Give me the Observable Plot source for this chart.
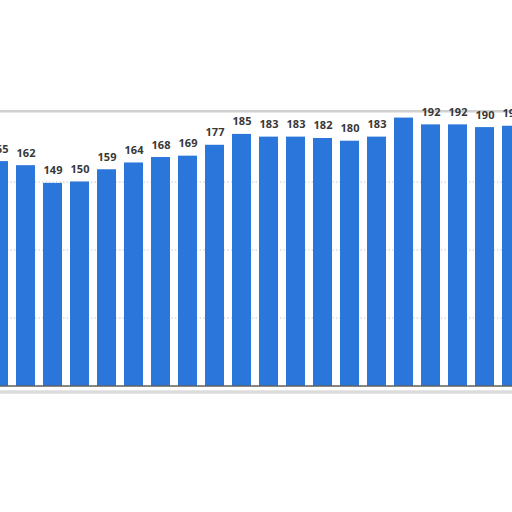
<!DOCTYPE html>
<html>
<head>
<meta charset="utf-8">
<script src="https://cdn.jsdelivr.net/npm/d3@7"></script>
<script src="https://cdn.jsdelivr.net/npm/@observablehq/plot@0.6"></script>
<style>
  html, body { margin: 0; padding: 0; background: #fff; }
  #chart svg { display: block; }
</style>
</head>
<body>
<div id="chart"></div>
<script>
// Categories (x axis not visible in the reference crop)
const categories = ["2001","2002","2003","2004","2005","2006","2007","2008","2009","2010",
                    "2011","2012","2013","2014","2015","2016","2017","2018","2019","2020"];
// Bar values
const values = [165, 162, 149, 150, 159, 164, 168, 169, 177, 185,
                183, 183, 182, 180, 183, 197, 192, 192, 190, 191];
// Labels shown above bars (the 16th bar's label is hidden in the reference)
const labels = ["165","162","149","150","159","164","168","169","177","185",
                "183","183","182","180","183","","192","192","190","191"];
const gridTicks = [50, 100, 150];

const data = categories.map((c, i) => ({cat: c, value: values[i], label: labels[i]}));

const chart = Plot.plot({
  width: 512,
  height: 512,
  marginTop: 113.5,
  marginBottom: 126.5,
  marginLeft: 0,
  marginRight: 0,
  style: {background: "#fff", fontFamily: "'Open Sans', 'DejaVu Sans', sans-serif"},
  x: {domain: categories, range: [-16.55, 525.9], paddingInner: 0.31, paddingOuter: 0, axis: null},
  y: {domain: [0, 200], axis: null},
  marks: [
    Plot.ruleY(gridTicks, {stroke: "#c8c8c8", strokeWidth: 1, strokeDasharray: "1.5,2"}),
    Plot.ruleY([202], {stroke: "#d0d0d0", strokeWidth: 2.5}),
    Plot.ruleY([-4.5], {stroke: "#dcdcdc", strokeWidth: 3.5}),
    Plot.barY(data, {x: "cat", y: "value", fill: "#2a76db"}),
    Plot.ruleY([0], {stroke: "#111", strokeWidth: 1.2}),
    Plot.text(data, {x: "cat", y: "value", text: "label", dy: -9, lineAnchor: "bottom",
                     fill: "#383838", fontSize: 11, fontWeight: "bold"})
  ]
});
document.getElementById("chart").appendChild(chart);
</script>
</body>
</html>
